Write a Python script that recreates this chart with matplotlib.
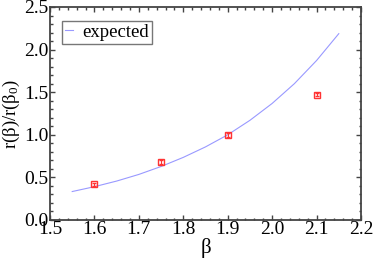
import matplotlib
matplotlib.use("Agg")
import matplotlib.pyplot as plt

plt.rcParams['font.family'] = ['Liberation Serif', 'DejaVu Serif']
plt.rcParams['mathtext.fontset'] = 'custom'
plt.rcParams['mathtext.rm'] = 'Liberation Serif'
plt.rcParams['mathtext.it'] = 'Liberation Serif:italic'

# measured points
beta = [1.60, 1.75, 1.90, 2.10]
ratio = [0.42, 0.68, 1.00, 1.47]
ratio_err = [0.02, 0.025, 0.02, 0.02]

# expected curve
beta_exp = [1.55, 1.60, 1.65, 1.70, 1.75, 1.80, 1.85, 1.90, 1.95, 2.00, 2.05, 2.10, 2.15]
ratio_exp = [0.334, 0.391, 0.457, 0.535, 0.628, 0.735, 0.858, 1.000, 1.170, 1.368, 1.600, 1.872, 2.187]

fig = plt.figure(figsize=(3.74, 2.58), dpi=100)
ax = fig.add_axes([50 / 374, 38 / 258, 311 / 374, 213 / 258])

ax.plot(beta_exp, ratio_exp, color='#9999ff', lw=0.8, label='expected')
ax.errorbar(beta, ratio, yerr=ratio_err, fmt='s', ms=5, mfc='none', mec='#ff3333',
            mew=1.0, ecolor='#ff3333', elinewidth=0.8, capsize=1.5, capthick=0.8)

ax.set_xlim(1.5, 2.2)
ax.set_ylim(0.0, 2.5)
ax.set_xticks([1.5, 1.6, 1.7, 1.8, 1.9, 2.0, 2.1, 2.2])
ax.set_yticks([0.0, 0.5, 1.0, 1.5, 2.0, 2.5])
ax.set_xticks([1.5 + 0.02 * i for i in range(36)], minor=True)
ax.set_yticks([0.1 * i for i in range(26)], minor=True)
ax.xaxis.set_major_formatter(matplotlib.ticker.FormatStrFormatter('%.1f'))
ax.yaxis.set_major_formatter(matplotlib.ticker.FormatStrFormatter('%.1f'))

ax.tick_params(which='both', direction='in', top=True, right=True, color='#444444',
               labelsize=14)
ax.tick_params(axis='x', pad=0.5)
ax.tick_params(axis='y', pad=1)
ax.tick_params(which='major', length=3.5, width=1.0)
ax.tick_params(which='minor', length=1.8, width=1.0)
for s in ax.spines.values():
    s.set_color('#444444')
    s.set_linewidth(1.3)

ax.set_xlabel('β', fontsize=15, labelpad=0)
ax.set_ylabel(r'r(β)/r(β$_0$)', fontsize=13.5, labelpad=1.5)

leg = ax.legend(loc='upper left', fontsize=13.5, frameon=True, fancybox=False,
                handlelength=0.45, handletextpad=0.5, borderpad=0.15,
                borderaxespad=0, bbox_to_anchor=(0.0386, 0.934))
leg.get_frame().set_edgecolor('#555555')
leg.get_frame().set_linewidth(1.0)

fig.savefig('out.png', dpi=100)
